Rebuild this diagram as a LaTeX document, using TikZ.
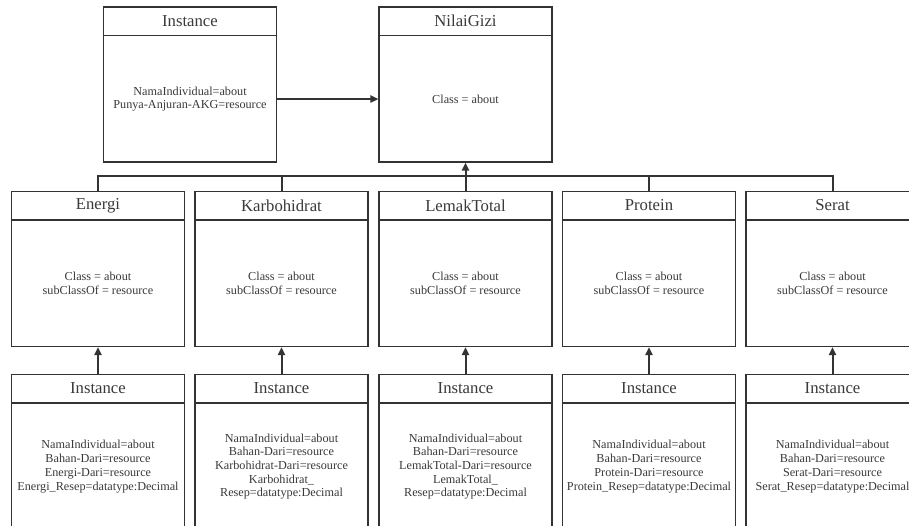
\documentclass[tikz,border=0pt]{standalone}
\usepackage{fontspec}
\setmainfont{Liberation Serif}
\usetikzlibrary{arrows.meta,calc}
\definecolor{ink}{HTML}{333333}
\definecolor{txt}{HTML}{3A3A3A}

\tikzset{
  umlbox/.style={draw=ink, line width=1.1pt, minimum width=173pt, minimum height=155pt,
                 inner sep=0pt, anchor=north},
  titletext/.style={font=\fontsize{16.7}{18}\selectfont, text=txt, inner sep=0pt},
  bodytext/.style={font=\fontsize{12.2}{13.7}\selectfont, text=txt, align=center, inner sep=0pt},
  conn/.style={draw=ink, line width=2pt},
  isa/.style={conn, -{Triangle[length=8pt,width=7pt]}},
}

% #1 name, #2 centre x, #3 top y, #4 title, #5 body
\newcommand\umlclass[5]{%
  \node[umlbox] (#1) at (#2,#3) {};
  \draw[ink, line width=1.1pt] ([yshift=-29pt]#1.north west) -- ([yshift=-29pt]#1.north east);
  \node[titletext] (#1-t) at ([yshift=-14.5pt]#1.north) {#4};
  \node[bodytext] (#1-b) at ($([yshift=-29pt]#1.north)!0.5!(#1.south)$) {#5};
}

\begin{document}
\begin{tikzpicture}[x=1pt,y=-1pt]
  \fill[white] (0,0) rectangle (909,526);
  \clip (0,0) rectangle (909,526);

  % top row
  \umlclass{inst0}{190}{6.5}{Instance}{NamaIndividual=about\\Punya-Anjuran-AKG=resource}
  \umlclass{nilai}{465.5}{6.5}{NilaiGizi}{Class = about}

  % class row
  \umlclass{energi}{98}{191}{Energi}{Class = about\\subClassOf = resource}
  \umlclass{karbo}{281.5}{191}{Karbohidrat}{Class = about\\subClassOf = resource}
  \umlclass{lemak}{465.5}{191}{LemakTotal}{Class = about\\subClassOf = resource}
  \umlclass{protein}{649}{191}{Protein}{Class = about\\subClassOf = resource}
  \umlclass{serat}{832.5}{191}{Serat}{Class = about\\subClassOf = resource}

  % instance row
  \umlclass{ienergi}{98}{374}{Instance}{NamaIndividual=about\\Bahan-Dari=resource\\Energi-Dari=resource\\Energi\_Resep=datatype:Decimal}
  \umlclass{ikarbo}{281.5}{374}{Instance}{NamaIndividual=about\\Bahan-Dari=resource\\Karbohidrat-Dari=resource\\Karbohidrat\_\\Resep=datatype:Decimal}
  \umlclass{ilemak}{465.5}{374}{Instance}{NamaIndividual=about\\Bahan-Dari=resource\\LemakTotal-Dari=resource\\LemakTotal\_\\Resep=datatype:Decimal}
  \umlclass{iprotein}{649}{374}{Instance}{NamaIndividual=about\\Bahan-Dari=resource\\Protein-Dari=resource\\Protein\_Resep=datatype:Decimal}
  \umlclass{iserat}{832.5}{374}{Instance}{NamaIndividual=about\\Bahan-Dari=resource\\Serat-Dari=resource\\Serat\_Resep=datatype:Decimal}

  % instance of NilaiGizi
  \draw[isa] (inst0.east |- inst0-b) -- (nilai.west |- inst0-b);

  % generalisation bus
  \coordinate (bus) at (465.5,176);
  \draw[conn] (energi.north) -- (energi.north |- bus) -- (serat.north |- bus) -- (serat.north);
  \draw[conn] (karbo.north) -- (karbo.north |- bus);
  \draw[conn] (protein.north) -- (protein.north |- bus);
  \draw[isa] (lemak.north) -- (nilai.south);

  % instances of the classes
  \draw[isa] (ienergi.north) -- (energi.south);
  \draw[isa] (ikarbo.north) -- (karbo.south);
  \draw[isa] (ilemak.north) -- (lemak.south);
  \draw[isa] (iprotein.north) -- (protein.south);
  \draw[isa] (iserat.north) -- (serat.south);
\end{tikzpicture}
\end{document}
